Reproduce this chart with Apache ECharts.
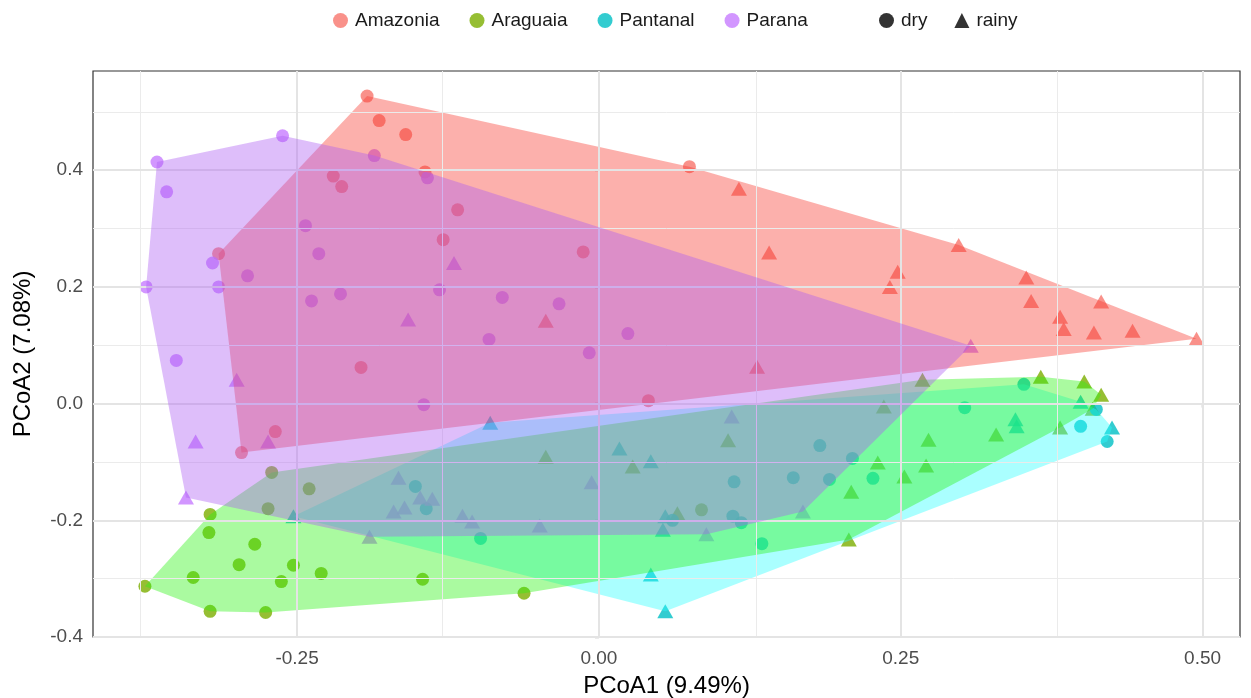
<!DOCTYPE html>
<html>
<head>
<meta charset="utf-8">
<script src="https://cdn.jsdelivr.net/npm/echarts@6/dist/echarts.min.js"></script>
<style>
  html, body { margin: 0; padding: 0; background: #ffffff; }
  #chart { width: 1251px; height: 698px; }
</style>
</head>
<body>
<div id="chart"></div>
<script>
// Sample scores on the first two PCoA axes: [PCoA1, PCoA2]
const regions = ['Amazonia', 'Araguaia', 'Pantanal', 'Parana'];
const seasons = ['dry', 'rainy'];

const amazoniaDry = [
  [-0.192, 0.527], [-0.182, 0.485], [-0.160, 0.461], [-0.220, 0.390], [-0.144, 0.397],
  [-0.213, 0.372], [-0.117, 0.332], [-0.129, 0.281], [-0.013, 0.260], [-0.315, 0.257],
  [-0.197, 0.062], [0.041, 0.005], [-0.268, -0.048], [-0.296, -0.084], [0.075, 0.406]
];
const amazoniaRainy = [
  [0.116, 0.368], [0.141, 0.259], [0.298, 0.272], [0.354, 0.216], [0.358, 0.176],
  [0.416, 0.175], [0.382, 0.149], [0.385, 0.128], [0.410, 0.122], [0.442, 0.125],
  [0.495, 0.111], [0.2475, 0.226], [0.241, 0.200], [0.131, 0.063], [-0.044, 0.142]
];
const araguaiaDry = [
  [-0.271, -0.118], [-0.240, -0.146], [-0.274, -0.180], [-0.322, -0.190], [-0.323, -0.221],
  [-0.285, -0.241], [-0.298, -0.276], [-0.253, -0.277], [-0.230, -0.291], [-0.336, -0.298],
  [-0.263, -0.305], [-0.376, -0.313], [-0.322, -0.356], [-0.276, -0.358], [-0.146, -0.301],
  [-0.062, -0.325], [0.085, -0.182]
];
const araguaiaRainy = [
  [-0.044, -0.091], [0.028, -0.108], [0.065, -0.188], [0.107, -0.063], [0.231, -0.101],
  [0.273, -0.062], [0.271, -0.106], [0.253, -0.125], [0.209, -0.151], [0.207, -0.233],
  [0.268, 0.041], [0.236, -0.005], [0.366, 0.046], [0.402, 0.038], [0.416, 0.015],
  [0.409, -0.009], [0.329, -0.053], [0.382, -0.041]
];
const pantanalDry = [
  [0.352, 0.033], [0.303, -0.007], [0.399, -0.039], [0.412, -0.010], [0.421, -0.065],
  [0.183, -0.072], [0.210, -0.094], [0.112, -0.134], [0.161, -0.127], [0.191, -0.130],
  [0.227, -0.128], [0.111, -0.193], [0.118, -0.204], [0.135, -0.240], [0.061, -0.200],
  [-0.152, -0.142], [-0.143, -0.180], [-0.098, -0.231]
];
const pantanalRainy = [
  [0.017, -0.077], [0.043, -0.099], [0.055, -0.193], [0.053, -0.216], [0.043, -0.293],
  [0.055, -0.356], [-0.090, -0.033], [-0.253, -0.193], [0.399, 0.003], [0.345, -0.027],
  [0.346, -0.039], [0.425, -0.041]
];
const paranaDry = [
  [-0.262, 0.459], [-0.366, 0.414], [-0.358, 0.363], [-0.186, 0.425], [-0.243, 0.305],
  [-0.232, 0.257], [-0.320, 0.241], [-0.291, 0.219], [-0.375, 0.200], [-0.315, 0.200],
  [-0.238, 0.176], [-0.214, 0.188], [-0.350, 0.074], [-0.132, 0.195], [-0.080, 0.182],
  [-0.033, 0.171], [-0.091, 0.110], [-0.008, 0.087], [0.024, 0.120], [-0.145, -0.002],
  [-0.142, 0.387]
];
const paranaRainy = [
  [-0.120, 0.241], [-0.158, 0.144], [-0.300, 0.041], [-0.334, -0.065], [-0.274, -0.065],
  [-0.342, -0.161], [0.308, 0.099], [-0.166, -0.127], [-0.148, -0.161], [-0.138, -0.163],
  [-0.170, -0.185], [-0.161, -0.178], [-0.113, -0.192], [-0.105, -0.202], [-0.049, -0.209],
  [-0.006, -0.135], [-0.190, -0.228], [0.110, -0.022], [0.089, -0.224], [0.169, -0.185]
];

const xTicks = [-0.25, 0.00, 0.25, 0.50];
const xMinorTicks = [-0.375, -0.125, 0.125, 0.375];
const yTicks = [-0.4, -0.2, 0.0, 0.2, 0.4];
const yMinorTicks = [-0.3, -0.1, 0.1, 0.3, 0.5];
const xTitle = 'PCoA1 (9.49%)';
const yTitle = 'PCoA2 (7.08%)';

const pointsByRegion = {
  Amazonia: { dry: amazoniaDry, rainy: amazoniaRainy },
  Araguaia: { dry: araguaiaDry, rainy: araguaiaRainy },
  Pantanal: { dry: pantanalDry, rainy: pantanalRainy },
  Parana: { dry: paranaDry, rainy: paranaRainy }
};

const pointColors = {
  Amazonia: '#F8766D', Araguaia: '#7CAE00', Pantanal: '#00BFC4', Parana: '#C77CFF'
};
// Translucent hull fills, layered over the points
const hullColors = {
  Amazonia: 'rgba(248,58,48,0.4)',
  Pantanal: 'rgba(42,255,255,0.4)',
  Araguaia: 'rgba(42,242,17,0.4)',
  Parana: 'rgba(172,92,242,0.4)'
};
const hullOrder = ['Amazonia', 'Pantanal', 'Araguaia', 'Parana'];
const FONT = '"Liberation Sans", Arial, Helvetica, sans-serif';

// Convex hull (monotone chain) of a set of [x, y] points
function convexHull(pts) {
  const p = pts.slice().sort((a, b) => a[0] - b[0] || a[1] - b[1]);
  const cross = (o, a, b) => (a[0] - o[0]) * (b[1] - o[1]) - (a[1] - o[1]) * (b[0] - o[0]);
  const lower = [];
  for (const q of p) {
    while (lower.length >= 2 && cross(lower[lower.length - 2], lower[lower.length - 1], q) <= 0) lower.pop();
    lower.push(q);
  }
  const upper = [];
  for (let i = p.length - 1; i >= 0; i--) {
    const q = p[i];
    while (upper.length >= 2 && cross(upper[upper.length - 2], upper[upper.length - 1], q) <= 0) upper.pop();
    upper.push(q);
  }
  upper.pop(); lower.pop();
  return lower.concat(upper);
}

const series = [];

// Background grid lines (major and minor), drawn on the value scales
series.push({
  type: 'scatter',
  data: [],
  silent: true,
  z: 0,
  markLine: {
    silent: true,
    symbol: 'none',
    label: { show: false },
    animation: false,
    data: [
      ...xMinorTicks.map(v => ({ xAxis: v, lineStyle: { color: '#ebebeb', width: 1, type: 'solid' } })),
      ...yMinorTicks.map(v => ({ yAxis: v, lineStyle: { color: '#ebebeb', width: 1, type: 'solid' } })),
      ...xTicks.map(v => ({ xAxis: v, lineStyle: { color: '#e4e4e4', width: 2, type: 'solid' } })),
      ...yTicks.map(v => ({ yAxis: v, lineStyle: { color: '#e4e4e4', width: 2, type: 'solid' } }))
    ]
  }
});

// Sample points: circles for dry season, triangles for rainy season
regions.forEach(r => {
  series.push({
    type: 'scatter',
    name: r,
    z: 1,
    symbol: 'circle',
    symbolSize: 13,
    itemStyle: { color: pointColors[r] },
    data: pointsByRegion[r].dry
  });
  series.push({
    type: 'scatter',
    name: r,
    z: 1,
    symbol: 'triangle',
    symbolSize: [16, 14],
    itemStyle: { color: pointColors[r] },
    data: pointsByRegion[r].rainy
  });
});

// Convex hull polygons per region
hullOrder.forEach((r, i) => {
  const all = pointsByRegion[r].dry.concat(pointsByRegion[r].rainy);
  const hull = convexHull(all);
  series.push({
    type: 'custom',
    name: r + ' hull',
    z: 2 + i,
    silent: true,
    data: hull,
    renderItem: function (params, api) {
      if (params.dataIndex !== 0) return null;
      const pts = hull.map(p => api.coord(p));
      return {
        type: 'polygon',
        shape: { points: pts },
        style: { fill: hullColors[r], stroke: 'none' }
      };
    }
  });
});

// Legend-only entries for the season shapes
series.push({ type: 'scatter', name: 'dry', data: [], symbol: 'circle', itemStyle: { color: '#000' } });
series.push({ type: 'scatter', name: 'rainy', data: [], symbol: 'triangle', itemStyle: { color: '#000' } });

const chart = echarts.init(document.getElementById('chart'), null, { renderer: 'canvas' });
chart.setOption({
  animation: false,
  backgroundColor: '#ffffff',
  textStyle: { fontFamily: FONT },
  legend: [
    {
      data: regions.map(r => ({ name: r, icon: 'circle' })),
      left: 328, top: 6,
      itemWidth: 15, itemHeight: 15, itemGap: 30,
      selectedMode: false,
      textStyle: { fontSize: 19, color: '#1a1a1a', fontFamily: FONT, padding: [0, 0, 0, 2] }
    },
    {
      data: [{ name: 'dry', icon: 'circle' }, { name: 'rainy', icon: 'triangle' }],
      left: 874, top: 6,
      itemWidth: 15, itemHeight: 15, itemGap: 27,
      selectedMode: false,
      textStyle: { fontSize: 19, color: '#1a1a1a', fontFamily: FONT, padding: [0, 0, 0, 2] }
    }
  ],
  grid: {
    left: 93, right: 11, top: 71, bottom: 61,
    outerBoundsMode: 'none',
    show: true, borderColor: '#333333', borderWidth: 1.2, backgroundColor: 'transparent'
  },
  xAxis: {
    type: 'value',
    min: -0.419, max: 0.531,
    name: xTitle, nameLocation: 'middle', nameGap: 37,
    nameTextStyle: { fontSize: 24, color: '#000', fontFamily: FONT },
    axisLine: { show: false },
    splitLine: { show: false },
    axisTick: { show: true, customValues: xTicks, length: 4, lineStyle: { color: '#333', width: 1.2 } },
    axisLabel: {
      customValues: xTicks, margin: 12, fontSize: 19, color: '#4d4d4d', fontFamily: FONT,
      formatter: v => v.toFixed(2)
    }
  },
  yAxis: {
    type: 'value',
    min: -0.4, max: 0.570,
    name: yTitle, nameLocation: 'middle', nameGap: 58, nameRotate: 90,
    nameTextStyle: { fontSize: 24, color: '#000', fontFamily: FONT },
    axisLine: { show: false },
    splitLine: { show: false },
    axisTick: { show: true, customValues: yTicks, length: 4, lineStyle: { color: '#333', width: 1.2 } },
    axisLabel: {
      customValues: yTicks, margin: 10, fontSize: 19, color: '#4d4d4d', fontFamily: FONT,
      formatter: v => v.toFixed(1)
    }
  },
  series: series
});
</script>
</body>
</html>
